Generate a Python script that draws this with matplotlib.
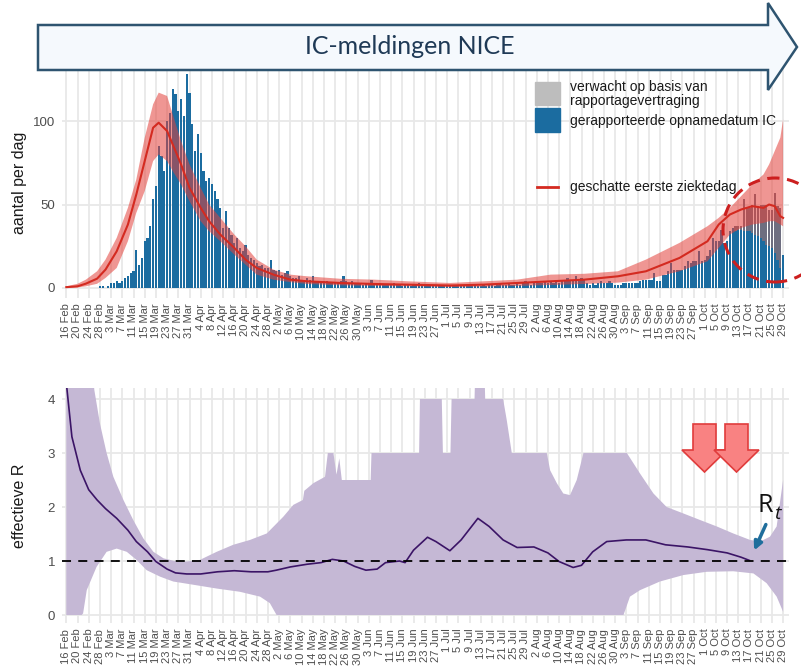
import numpy as np
import pandas as pd
import matplotlib
matplotlib.use('Agg')
import matplotlib.pyplot as plt
from matplotlib.patches import Polygon, Rectangle, Ellipse

plt.rcParams['font.family'] = ['Liberation Sans', 'DejaVu Sans']

# --- data -------------------------------------------------------------
start, eind = '2020-02-16', '2020-10-29'
tick_datums = pd.date_range(start, eind, freq='4D')
tick_labels = [f'{d.day} {d.strftime("%b")}' for d in tick_datums]

# gerapporteerde IC-opnames per dag (dag 0 = 16 feb)
gemeld = [0, 0, 0, 0, 0, 0, 0, 0, 0, 0,
          0, 0, 1, 1, 0, 1, 3, 3, 4, 3,
          4, 6, 7, 9, 10, 23, 14, 18, 28, 30,
          37, 53, 61, 85, 79, 70, 100, 105, 119, 116,
          106, 113, 103, 128, 117, 98, 82, 92, 81, 70,
          64, 66, 62, 58, 53, 48, 36, 46, 36, 32,
          27, 30, 24, 22, 26, 20, 18, 17, 15, 13,
          14, 12, 12, 17, 11, 10, 11, 8, 9, 10,
          7, 6, 6, 7, 5, 5, 6, 5, 7, 4,
          4, 3, 4, 4, 3, 3, 3, 3, 4, 7,
          4, 3, 4, 3, 3, 3, 2, 3, 3, 5,
          3, 2, 3, 2, 2, 2, 2, 3, 2, 2,
          1, 2, 2, 1, 2, 2, 3, 2, 1, 2,
          2, 1, 2, 2, 1, 2, 1, 2, 1, 2,
          1, 2, 1, 1, 2, 1, 2, 1, 1, 2,
          1, 2, 2, 1, 2, 3, 2, 2, 3, 2,
          2, 3, 2, 3, 4, 3, 2, 3, 4, 3,
          3, 4, 3, 4, 3, 4, 3, 5, 4, 6,
          4, 5, 7, 4, 6, 5, 3, 2, 3, 2,
          3, 4, 3, 3, 4, 3, 2, 2, 2, 3,
          3, 3, 3, 3, 3, 4, 5, 5, 5, 5,
          9, 4, 4, 8, 8, 10, 15, 11, 11, 11,
          11, 13, 16, 15, 16, 16, 22, 16, 17, 19,
          23, 30, 28, 28, 35, 27, 28, 34, 36, 34,
          35, 35, 34, 34, 34, 33, 32, 31, 30, 28,
          26, 25, 24, 21, 17, 12, 20]
# verwacht extra (rapportagevertraging), laatste 18 dagen
verwacht_eind = [3, 2, 2, 19, 14, 14, 17, 24, 18, 20, 22, 24, 22, 23, 36, 32, 36, 0]

# geschatte eerste ziektedag (lijn + band)
ziek_dag = [0, 4, 7, 11, 14, 18, 22, 25, 28, 31, 33, 36, 38, 41, 44, 48, 51, 55, 60, 64,
            68, 74, 80, 86, 98, 110, 122, 137, 149, 161, 173, 185, 197, 207, 219, 229,
            233, 237, 241, 245, 249, 251, 253, 255, 256]
ziek_mid = [0.5, 1, 2.6, 5.6, 11, 22, 38, 56, 76, 96, 99, 94, 86, 74, 60, 48, 40, 32, 24, 17,
            12, 8, 5, 4, 3, 2.4, 2, 1.5, 2, 3, 4, 5, 7, 10, 18, 28,
            38, 44, 47, 49, 48, 50, 49, 43, 42]
ziek_laag = [0, 0.3, 1, 2.5, 6, 12, 28, 45, 58, 76, 80, 76, 70, 62, 52, 40, 34, 28, 20, 14,
             8, 5, 3.5, 2.4, 1.6, 1.2, 1.0, 0.6, 0.8, 1.2, 1.8, 2.4, 3.2, 5, 10, 16,
             24, 32, 36, 38, 39, 40, 40, 38, 37]
ziek_hoog = [1, 2.5, 5, 10, 17, 30, 48, 65, 90, 110, 117, 115, 104, 88, 74, 60, 50, 42, 32, 25,
             17, 11, 8, 7, 5.5, 5, 4, 3, 4, 5, 8, 8.5, 10, 17, 27, 37,
             42, 48, 55, 62, 68, 74, 82, 90, 101]

# effectieve R
r_dag = [0, 2, 5, 8, 11, 14, 18, 22, 25, 29, 32, 36, 39, 43, 48, 54, 60, 66, 72, 75,
         80, 86, 91, 95, 99, 103, 107, 111, 114, 119, 121, 124, 129, 132, 137, 141, 147,
         151, 156, 161, 167, 172, 176, 181, 184, 188, 193, 200, 207, 214, 222, 229, 236,
         241, 244]
r_mid = [4.3, 3.3, 2.68, 2.32, 2.13, 1.97, 1.79, 1.57, 1.36, 1.17, 0.99, 0.85, 0.78, 0.76,
         0.76, 0.80, 0.82, 0.80, 0.80, 0.83, 0.89, 0.94, 0.97, 1.03, 1.0, 0.90, 0.83, 0.85,
         0.97, 1.0, 0.97, 1.2, 1.44, 1.36, 1.19, 1.39, 1.79, 1.64, 1.39, 1.25, 1.26, 1.15,
         0.99, 0.88, 0.92, 1.17, 1.36, 1.39, 1.39, 1.30, 1.26, 1.21, 1.15, 1.07, 1.01]
r_hoog_dag = [0, 9.7, 10, 12, 14.4, 16.8, 20.4, 23.9, 27.5, 31.1, 34.7, 39.4, 43, 47.7, 53.7,
              59.6, 65.6, 71.6, 77.5, 81.1, 84.5, 85, 88.2, 92.4, 93.4, 95.4, 96.5, 97.5,
              98.4, 108.7, 109, 126, 126.3, 134.1, 134.5, 137.2, 137.6, 145.8, 146, 149.4,
              149.6, 156, 157.3, 159.1, 171.6, 172.8, 175.2, 177.5, 179.9, 182.3, 184.7,
              200.2, 204.9, 209.7, 214.4, 220.4, 226.3, 232.3, 238.2, 244.2, 247.8, 251.3,
              253.7, 256]
r_hoog = [4.4, 4.4, 4.17, 3.55, 3.0, 2.56, 2.13, 1.76, 1.42, 1.17, 1.05, 0.99, 0.99, 1.02, 1.17,
          1.30, 1.39, 1.51, 1.82, 2.04, 2.13, 2.3, 2.44, 2.56, 3.0, 3.0, 2.6, 2.9,
          2.5, 2.5, 3.0, 3.0, 4.0, 4.0, 3.0, 3.0, 4.0, 4.0, 4.4, 4.4,
          4.0, 4.0, 3.61, 3.0, 3.0, 2.68, 2.44, 2.25, 2.22, 2.5, 3.0,
          3.0, 2.62, 2.25, 2.0, 1.88, 1.76, 1.64, 1.51, 1.39, 1.36, 1.45,
          1.64, 2.5]
r_laag_dag = [0, 5.5, 6, 7.3, 10.8, 14.4, 18, 21.6, 25.1, 28.7, 33.5, 38.2, 45.4, 53.7, 62,
              69.2, 72.7, 75.1, 199, 201.3, 204.9, 212, 220.4, 228.7, 238.2, 245.4, 250.1,
              253.7, 256]
r_laag = [0, 0, 0.03, 0.46, 0.89, 1.17, 1.23, 1.17, 1.02, 0.83, 0.71, 0.62, 0.56, 0.49, 0.43,
          0.34, 0.22, 0, 0, 0.34, 0.46, 0.62, 0.74, 0.80, 0.81, 0.77, 0.59, 0.34, 0.06]

# --- figuur -----------------------------------------------------------
W, H = 801, 671


def fx(px):
    return px / W


def fy(py):
    return 1 - py / H


fig = plt.figure(figsize=(W / 100, H / 100), dpi=100)
ax1 = fig.add_axes([fx(62.1), fy(298), 726.6 / W, 230.4 / H])
ax2 = fig.add_axes([fx(62.1), fy(623.1), 726.6 / W, 234.9 / H])

dagen = np.arange(len(gemeld))
verwacht = np.zeros(len(gemeld))
verwacht[-len(verwacht_eind):] = verwacht_eind
tick_pos = np.arange(0, len(gemeld), 4)

grid_kleur = '#E8E8E8'
for ax in (ax1, ax2):
    ax.set_xlim(-1.5, 258)
    for s in ax.spines.values():
        s.set_visible(False)
    ax.set_xticks(tick_pos)
    ax.set_xticklabels(tick_labels, rotation=90, fontsize=8, color='#4D4D4D')
    ax.tick_params(length=0, pad=4)
    ax.tick_params(axis='y', labelsize=9.5, labelcolor='#4D4D4D', pad=5)
    ax.grid(True, color=grid_kleur, lw=1.3, zorder=0)
    ax.set_axisbelow(True)

# bovenste paneel
ax1.set_ylim(-6, 132)
ax1.set_yticks([0, 50, 100])
ax1.bar(dagen, gemeld, width=0.8, color='#1B6CA0', zorder=2)
ax1.bar(dagen, verwacht, width=0.8, bottom=gemeld, color='#6E6E80', zorder=2)
ax1.fill(np.r_[ziek_dag, ziek_dag[::-1]], np.r_[ziek_hoog, ziek_laag[::-1]],
         color='#E3413A', alpha=0.55, lw=0, zorder=3)
ax1.plot(ziek_dag, ziek_mid, color='#D42A20', lw=1.5, zorder=4)
ax1.set_ylabel('aantal per dag', fontsize=11.5, color='#1A1A1A')
ax1.yaxis.set_label_coords((27 - 62.1) / 726.6, 0.5)

# onderste paneel
ax2.set_ylim(-0.15, 4.2)
ax2.set_yticks([0, 1, 2, 3, 4])
ax2.fill(np.r_[r_hoog_dag, r_laag_dag[::-1]], np.r_[r_hoog, r_laag[::-1]],
         color='#C5B8D5', lw=0, zorder=2)
ax2.plot(r_dag, r_mid, color='#3B1466', lw=1.2, zorder=3)
ax2.axhline(1, color='black', lw=1.3, ls=(0, (5, 4)), zorder=4)
ax2.set_ylabel('effectieve R', fontsize=11.5, color='#1A1A1A')
ax2.yaxis.set_label_coords((27 - 62.1) / 726.6, 0.5)

# legenda
fig.patches.append(Rectangle((fx(535), fy(105)), 25 / W, 23 / H, color='#BDBDBD',
                             transform=fig.transFigure))
fig.patches.append(Rectangle((fx(535), fy(132)), 25 / W, 24 / H, color='#1B6CA0',
                             transform=fig.transFigure))
fig.text(fx(570), fy(94), 'verwacht op basis van\nrapportagevertraging', fontsize=10,
         va='center', linespacing=1.0, color='#1A1A1A')
fig.text(fx(570), fy(121), 'gerapporteerde opnamedatum IC', fontsize=10, va='center',
         color='#1A1A1A')
fig.lines.append(plt.Line2D([fx(537), fx(558)], [fy(187), fy(187)], color='#D42A20', lw=2,
                            transform=fig.transFigure))
fig.text(fx(570), fy(187), 'geschatte eerste ziektedag', fontsize=10, va='center',
         color='#1A1A1A')

# gestippelde cirkel
fig.patches.append(Ellipse((fx(775), fy(230)), 104 / W, 104 / H, fill=False,
                           edgecolor='#CC1F1F', lw=2.2, ls=(0, (4, 2.5)),
                           transform=fig.transFigure))

# banner pijl
banner = [(38, 25), (768, 25), (768, 3), (797, 47), (768, 90), (768, 70), (38, 70)]
fig.patches.append(Polygon([(fx(x), fy(y)) for x, y in banner], closed=True,
                           facecolor='#F5F9FD', edgecolor='#2E5470', lw=1.8,
                           transform=fig.transFigure))
fig.text(fx(410), fy(47), 'IC-meldingen NICE', fontsize=18, family='Lato',
         color='#1F3A56', ha='center', va='center')


# rode pijlen naar beneden
def blokpijl(cx):
    pts = [(cx - 11.5, 424), (cx + 11.5, 424), (cx + 11.5, 450), (cx + 22.5, 450),
           (cx, 472), (cx - 22.5, 450), (cx - 11.5, 450)]
    fig.patches.append(Polygon([(fx(x), fy(y)) for x, y in pts], closed=True,
                               facecolor='#F98282', edgecolor='#E03C3C', lw=1.2,
                               transform=fig.transFigure))


blokpijl(704.5)
blokpijl(736.5)

# R_t label
fig.text(fx(757), fy(505), 'R', fontsize=18, family='Open Sans', va='center',
         color='#111111')
fig.text(fx(774), fy(514), 't', fontsize=14, family='Open Sans', style='italic',
         va='center', color='#111111')
fig.add_artist(matplotlib.patches.FancyArrowPatch(
    (fx(767), fy(522)), (fx(753), fy(553)), arrowstyle='-|>', mutation_scale=12,
    color='#1F6E9C', lw=2.5, transform=fig.transFigure))

fig.savefig('out.png', dpi=100)
